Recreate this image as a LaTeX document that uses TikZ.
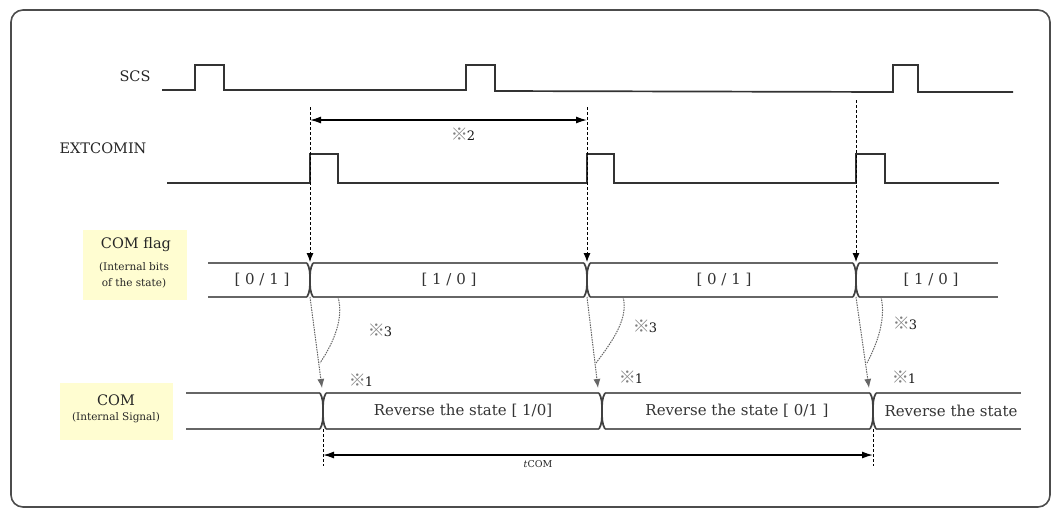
\documentclass[tikz,border=0pt]{standalone}
\usepackage{fontspec}
\setmainfont{DejaVu Serif}
\newfontfamily\cjk{Noto Sans CJK JP}
\usetikzlibrary{arrows.meta}

\tikzset{
  wave/.style={draw=black!80, line width=1.7pt},
  bus/.style={draw=black!60, line width=1.7pt},
  guide/.style={draw=black, line width=0.9pt, dash pattern=on 3pt off 2pt},
  delay/.style={draw=black!60, line width=1pt, dash pattern=on 1.5pt off 1pt},
  tip/.style={-{Latex[length=9pt,width=7pt]}},
  span/.style={draw=black, line width=1.4pt, {Latex[length=11pt,width=7pt]}-{Latex[length=11pt,width=7pt]}},
  lbl/.style={inner sep=0pt, text=black!85, font=\fontsize{14.5}{16}\selectfont},
  small/.style={inner sep=0pt, text=black!85, font=\fontsize{10.5}{12}\selectfont},
  state/.style={inner sep=0pt, text=black!80, font=\fontsize{15}{17}\selectfont},
  tag/.style={fill=yellow!18, inner sep=0pt},
  note/.style={inner sep=0pt, text=black!90, font=\fontsize{13}{15}\selectfont},
}
\newcommand{\refmark}[1]{{\cjk\fontsize{17}{17}\selectfont\color{black!50}※}\kern-1pt#1}

\begin{document}
\begin{tikzpicture}[x=1pt,y=-1pt]
\useasboundingbox (0,0) rectangle (1056,512);

% frame
\draw[black!70, line width=1.6pt, rounded corners=12pt] (11,10) rectangle (1050,507);

% signal names
\node[lbl] (scs) at (135,76) {SCS};
\node[lbl] (extcomin) at (103,148) {EXTCOMIN};

\node[tag, minimum width=104pt, minimum height=70pt] (flagtag) at (135,265) {};
\node[lbl] (flag) at (136,245) {COM flag};
\node[small] (flagsub1) at (134,267) {(Internal bits};
\node[small] (flagsub2) at (134,283) {of the state)};

\node[tag, minimum width=113pt, minimum height=57pt] (comtag) at (116,411) {};
\node[lbl] (com) at (116,400) {COM};
\node[small] (comsub) at (116,418) {(Internal Signal)};

% SCS
\draw[wave] (162,90) -- (195,90) -- (195,65) -- (224,65) -- (224,90)
  -- (466,90) -- (466,65) -- (495,65) -- (495,91)
  -- (893,92) -- (893,65) -- (918,65) -- (918,92) -- (1013,92);

% EXTCOMIN
\draw[wave] (167,183) -- (310,183) -- (310,154) -- (338,154) -- (338,183)
  -- (587,183) -- (587,154) -- (614,154) -- (614,183)
  -- (856,183) -- (856,154) -- (885,154) -- (885,183) -- (999,183);

% COM flag bus
\draw[bus] (208,263) -- (998,263);
\draw[bus] (208,297) -- (998,297);
\foreach \x in {310,587,856}{
  \fill[white] (\x-3,261) rectangle (\x+3,299);
  \draw[bus, draw=black!75] (\x-3,263) .. controls (\x,268) and (\x,274) .. (\x,280)
    .. controls (\x,286) and (\x,292) .. (\x-3,297);
  \draw[bus, draw=black!75] (\x+3,263) .. controls (\x,268) and (\x,274) .. (\x,280)
    .. controls (\x,286) and (\x,292) .. (\x+3,297);
}
\node[state] (f1) at (262,280) {[ 0 / 1 ]};
\node[state] (f2) at (449,280) {[ 1 / 0 ]};
\node[state] (f3) at (724,280) {[ 0 / 1 ]};
\node[state] (f4) at (931,280) {[ 1 / 0 ]};

% COM bus
\draw[bus] (186,393) -- (1021,393);
\draw[bus] (186,429) -- (1021,429);
\foreach \x in {323,602,873}{
  \fill[white] (\x-3,391) rectangle (\x+3,431);
  \draw[bus, draw=black!75] (\x-3,393) .. controls (\x,398) and (\x,404) .. (\x,411)
    .. controls (\x,418) and (\x,424) .. (\x-3,429);
  \draw[bus, draw=black!75] (\x+3,393) .. controls (\x,398) and (\x,404) .. (\x,411)
    .. controls (\x,418) and (\x,424) .. (\x+3,429);
}
\node[state] (c1) at (463,411) {Reverse the state [ 1/0]};
\node[state] (c2) at (737,411) {Reverse the state [ 0/1 ]};
\node[state] (c3) at (951,411) {Reverse the state};

% guides from EXTCOMIN to COM flag
\coordinate (g1) at (310,107);
\coordinate (g2) at (587,107);
\coordinate (g3) at (856,100);
\coordinate (t1) at (310,262);
\coordinate (t2) at (587,262);
\coordinate (t3) at (856,262);
\draw[guide, tip] (g1) -- (t1);
\draw[guide, tip] (g2) -- (t2);
\draw[guide, tip] (g3) -- (t3);

% period of EXTCOMIN
\coordinate (s2a) at (310,120);
\coordinate (s2b) at (587,120);
\draw[span] (s2a) -- (s2b);
\node[note] (m2) at (463,134) {\refmark{2}};

% delay from COM flag to COM
\coordinate (b1) at (310,297);
\coordinate (b2) at (587,297);
\coordinate (b3) at (856,297);
\coordinate (d1) at (322,388);
\coordinate (d2) at (598,388);
\coordinate (d3) at (869,388);
\draw[delay, tip] (b1) -- (d1);
\draw[delay, tip] (b2) -- (d2);
\draw[delay, tip] (b3) -- (d3);
\draw[delay] (338,297) .. controls (344,318) and (334,342) .. (320,363);
\draw[delay] (623,297) .. controls (629,318) and (612,342) .. (596,363);
\draw[delay] (881,297) .. controls (886,318) and (878,342) .. (867,363);
\node[note] (m3a) at (380,330) {\refmark{3}};
\node[note] (m3b) at (645,326) {\refmark{3}};
\node[note] (m3c) at (905,323) {\refmark{3}};

\node[note] (m1a) at (361,380) {\refmark{1}};
\node[note] (m1b) at (631,377) {\refmark{1}};
\node[note] (m1c) at (904,377) {\refmark{1}};

% tCOM
\coordinate (k1) at (323,429);
\coordinate (k2) at (873,429);
\coordinate (k1e) at (323,466);
\coordinate (k2e) at (873,466);
\draw[guide] (k1) -- (k1e);
\draw[guide] (k2) -- (k2e);
\coordinate (p1) at (323,455);
\coordinate (p2) at (873,455);
\draw[span] (p1) -- (p2);
\node[small, font=\fontsize{9.5}{11}\selectfont] (tcom) at (538,464) {\textit{t}COM};

\end{tikzpicture}
\end{document}
